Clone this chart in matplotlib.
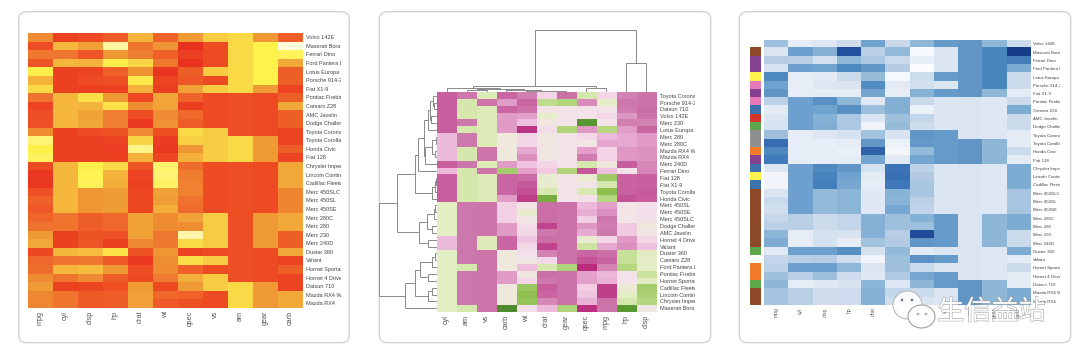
import numpy as np
import matplotlib
matplotlib.use('Agg')
import matplotlib.pyplot as plt
from matplotlib.colors import LinearSegmentedColormap, ListedColormap, Normalize
from matplotlib.patches import FancyBboxPatch, Ellipse, Circle
from matplotlib.transforms import Bbox, TransformedBbox
import matplotlib.patheffects as pe

plt.rcParams['font.family'] = ['Liberation Sans', 'DejaVu Sans']

# rows as they read top to bottom in the left panel
cars = ['Volvo 142E', 'Maserati Bora', 'Ferrari Dino', 'Ford Pantera L', 'Lotus Europa', 'Porsche 914-2',
        'Fiat X1-9', 'Pontiac Firebird', 'Camaro Z28', 'AMC Javelin', 'Dodge Challenger', 'Toyota Corona',
        'Toyota Corolla', 'Honda Civic', 'Fiat 128', 'Chrysler Imperial', 'Lincoln Continental',
        'Cadillac Fleetwood', 'Merc 450SLC', 'Merc 450SL', 'Merc 450SE', 'Merc 280C', 'Merc 280', 'Merc 230',
        'Merc 240D', 'Duster 360', 'Valiant', 'Hornet Sportabout', 'Hornet 4 Drive', 'Datsun 710',
        'Mazda RX4 Wag', 'Mazda RX4']

mpg = [21.4, 15.0, 19.7, 15.8, 30.4, 26.0, 27.3, 19.2, 13.3, 15.2, 15.5, 21.5, 33.9, 30.4, 32.4, 14.7,
       10.4, 10.4, 15.2, 17.3, 16.4, 17.8, 19.2, 22.8, 24.4, 14.3, 18.1, 18.7, 21.4, 22.8, 21.0, 21.0]
cyl = [4, 8, 6, 8, 4, 4, 4, 8, 8, 8, 8, 4, 4, 4, 4, 8, 8, 8, 8, 8, 8, 6, 6, 4, 4, 8, 6, 8, 6, 4, 6, 6]
disp = [121.0, 301.0, 145.0, 351.0, 95.1, 120.3, 79.0, 400.0, 350.0, 304.0, 318.0, 120.1, 71.1, 75.7, 78.7,
        440.0, 460.0, 472.0, 275.8, 275.8, 275.8, 167.6, 167.6, 140.8, 146.7, 360.0, 225.0, 360.0, 258.0,
        108.0, 160.0, 160.0]
hp = [109, 335, 175, 264, 113, 91, 66, 175, 245, 150, 150, 97, 65, 52, 66, 230, 215, 205, 180, 180, 180,
      123, 123, 95, 62, 245, 105, 175, 110, 93, 110, 110]
drat = [4.11, 3.54, 3.62, 4.22, 3.77, 4.43, 4.08, 3.08, 3.73, 3.15, 2.76, 3.70, 4.22, 4.93, 4.08, 3.23,
        3.00, 2.93, 3.07, 3.07, 3.07, 3.92, 3.92, 3.92, 3.69, 3.21, 2.76, 3.15, 3.08, 3.85, 3.90, 3.90]
wt = [2.780, 3.570, 2.770, 3.170, 1.513, 2.140, 1.935, 3.845, 3.840, 3.435, 3.520, 2.465, 1.835, 1.615,
      2.200, 5.345, 5.424, 5.250, 3.780, 3.730, 4.070, 3.440, 3.440, 3.150, 3.190, 3.570, 3.460, 3.440,
      3.215, 2.320, 2.875, 2.620]
qsec = [18.60, 14.60, 15.50, 14.50, 16.90, 16.70, 18.90, 17.05, 15.41, 17.30, 16.87, 20.01, 19.90, 18.52,
        19.47, 17.42, 17.82, 17.98, 18.00, 17.60, 17.40, 18.90, 18.30, 22.90, 20.00, 15.84, 20.22, 17.02,
        19.44, 18.61, 17.02, 16.46]
vs = [1, 0, 0, 0, 1, 0, 1, 0, 0, 0, 0, 1, 1, 1, 1, 0, 0, 0, 0, 0, 0, 1, 1, 1, 1, 0, 1, 0, 1, 1, 0, 0]
am = [1, 1, 1, 1, 1, 1, 1, 0, 0, 0, 0, 0, 1, 1, 1, 0, 0, 0, 0, 0, 0, 0, 0, 0, 0, 0, 0, 0, 0, 1, 1, 1]
gear = [4, 5, 5, 5, 5, 5, 4, 3, 3, 3, 3, 3, 4, 4, 4, 3, 3, 3, 3, 3, 3, 4, 4, 4, 4, 3, 3, 3, 3, 4, 4, 4]
carb = [2, 8, 6, 4, 2, 2, 1, 2, 4, 2, 2, 1, 1, 2, 1, 4, 4, 4, 3, 3, 3, 4, 4, 2, 2, 4, 1, 2, 1, 1, 4, 4]

columns = ['mpg', 'cyl', 'disp', 'hp', 'drat', 'wt', 'qsec', 'vs', 'am', 'gear', 'carb']

# order of the clustered panel
cluster_rows = ['Toyota Corona', 'Porsche 914-2', 'Datsun 710', 'Volvo 142E', 'Merc 230', 'Lotus Europa',
                'Merc 280', 'Merc 280C', 'Mazda RX4 Wag', 'Mazda RX4', 'Merc 240D', 'Ferrari Dino', 'Fiat 128',
                'Fiat X1-9', 'Toyota Corolla', 'Honda Civic', 'Merc 450SL', 'Merc 450SE', 'Merc 450SLC',
                'Dodge Challenger', 'AMC Javelin', 'Hornet 4 Drive', 'Valiant', 'Duster 360', 'Camaro Z28',
                'Ford Pantera L', 'Pontiac Firebird', 'Hornet Sportabout', 'Cadillac Fleetwood',
                'Lincoln Continental', 'Chrysler Imperial', 'Maserati Bora']
cluster_cols = ['cyl', 'am', 'vs', 'carb', 'wt', 'drat', 'gear', 'qsec', 'mpg', 'hp', 'disp']

# dendrograms: (height, left, right), leaves are positions in the clustered order
row_tree = (57.7,
            (40, (22, (19, (12.7, (9, (6.5, (4, 0, (2.5, 1, 2)), (5.5, 3, 4)), 5),
                            (11.5, (5, (1, 6, 7), (1.5, 8, 9)), 10)), 11),
                  (5, (2, (1, 12, 13), 14), 15)),
             (17.7, (10, (2.5, (1.5, 16, 17), 18), (4.3, 19, 20)), (8.3, 21, 22))),
            (32, (22, (16.7, (5, (2, 23, 24), 25), (8.3, 26, 27)),
                  (9, (4.3, 28, 29), 30)), 31))
col_tree = (62.3,
            (6.7, (4, 0, (3, (2.4, 1, 2), (2.2, 3, (1.8, 4, (1.5, 5, 6))))), (4, 7, 8)),
            (29, 9, 10))

# sidebar groups of the right panel, -1 is no colour
side_groups = [-1, 0, 1, 1, 2, 3, 1, 3, 4, 5, 6, 7, 7, 8, 1, 4, 2, 4, 0, 0, 0, 0, 0, 0, 0, 6, -1, 8, 8, 6, 0, 0]
side_colors = ['#8c4a2a', '#84418f', '#fff44f', '#e67ab8', '#3d72ad', '#d4352a', '#5da64a', '#8f8f8f', '#f27a2c']

VMIN, VMAX = -1.93, 3.25


def scaled(col):
    col = np.array(col, dtype=float)
    return (col - col.mean()) / col.std(ddof=1)


def stops(pairs):
    return LinearSegmentedColormap.from_list(
        'c', [((z - VMIN) / (VMAX - VMIN), c) for z, c in pairs], N=512)


heat = stops([(-1.93, '#e8301f'), (-0.9, '#ee4a23'), (-0.1, '#f0752f'), (0.42, '#ef9a35'), (1.0, '#f5b53d'),
              (1.19, '#f9d945'), (1.78, '#fff24b'), (2.7, '#fff59a'), (3.25, '#fffde0')])
piyg = stops([(-1.93, '#b8277b'), (-1.22, '#c8609f'), (-0.81, '#ce79ad'), (-0.5, '#e29cc8'), (-0.1, '#edbcdc'),
              (0.1, '#f3d0e5'), (0.42, '#f4e3ea'), (0.73, '#efe8de'), (1.01, '#e4efc5'), (1.19, '#d6e8ae'),
              (1.78, '#b0d57a'), (2.29, '#90be50'), (2.75, '#5a9a30'), (3.25, '#4f8a2c')])
blues = stops([(-1.93, '#fbfdff'), (-1.22, '#e6edf7'), (-0.81, '#dbe5f2'), (-0.1, '#b9cfe6'), (0.42, '#8fb8d8'),
               (1.0, '#6fa2cf'), (1.19, '#6196c7'), (1.78, '#4b87bf'), (2.25, '#3a70b5'), (2.75, '#2450a0'),
               (3.25, '#163a86')])

by_name = dict(zip(columns, [mpg, cyl, disp, hp, drat, wt, qsec, vs, am, gear, carb]))
matrix = np.column_stack([scaled(by_name[c]) for c in columns])
cluster_matrix = np.column_stack([scaled(by_name[c]) for c in cluster_cols])
cluster_matrix = cluster_matrix[[cars.index(r) for r in cluster_rows]]

W, H = 1080, 359
fig = plt.figure(figsize=(W / 100, H / 100), dpi=100, facecolor='white')
page = fig.add_axes([0, 0, 1, 1], zorder=0)
page.set_xlim(0, W)
page.set_ylim(H, 0)
page.axis('off')


def px_axes(x0, y0, x1, y1, zorder=1):
    ax = fig.add_axes([x0 / W, 1 - y1 / H, (x1 - x0) / W, (y1 - y0) / H], zorder=zorder)
    return ax


for x0, x1 in [(18.7, 349.3), (379.3, 710.7), (739.3, 1070.7)]:
    page.add_patch(FancyBboxPatch((x0 + 8, 11.7 + 8), x1 - x0 - 16, 331 - 16, boxstyle='round,pad=8',
                                  fc='white', ec='#cfcfcf', lw=0.9))


def heatmap(box, data, cmap, xlabels, ylabels, fs, xfs, clip_x, pad, xpad):
    ax = px_axes(*box)
    ax.imshow(data, cmap=cmap, norm=Normalize(VMIN, VMAX), aspect='auto', interpolation='nearest')
    for s in ax.spines.values():
        s.set_visible(False)
    ax.yaxis.tick_right()
    ax.set_yticks(range(len(ylabels)))
    ax.set_yticklabels(ylabels, fontsize=fs, color='#444444')
    ax.set_xticks(range(len(xlabels)))
    ax.set_xticklabels(xlabels, fontsize=xfs, color='#555555', rotation=90)
    ax.tick_params(axis='y', length=0, pad=pad)
    ax.tick_params(axis='x', length=0, pad=xpad)
    clip = TransformedBbox(Bbox([[0, 0], [clip_x, H]]), page.transData)
    for lab in ax.get_yticklabels():
        lab.set_clip_box(clip)
        lab.set_clip_on(True)
    return ax


heatmap((27.7, 33, 302.7, 307.7), matrix, heat, columns, cars, 4.0, 5.2, 341, 2.2, 2.2)
heatmap((436.7, 92.3, 656, 311.7), cluster_matrix, piyg, cluster_cols, cluster_rows, 4.0, 5.2, 695, 2.8, 2.2)
heatmap((764.3, 39.7, 1030.7, 305.3), matrix, blues, columns, cars, 3.2, 3.6, 1060, 2.0, 1.6)


# sidebar on the right panel
side = px_axes(750, 39.7, 761, 305.3)
side.imshow(np.ma.masked_less(np.array(side_groups)[:, None], 0), cmap=ListedColormap(side_colors),
            vmin=0, vmax=len(side_colors) - 1, aspect='auto', interpolation='nearest')
side.axis('off')


def draw_tree(ax, node, horizontal):
    if not isinstance(node, tuple):
        return node + 0.5, 0
    h, left, right = node
    p0, h0 = draw_tree(ax, left, horizontal)
    p1, h1 = draw_tree(ax, right, horizontal)
    xs, ys = [h0, h, h, h1], [p0, p0, p1, p1]
    if horizontal:
        ax.plot(ys, xs, color='#8a8a8a', lw=0.7, solid_joinstyle='miter')
    else:
        ax.plot(xs, ys, color='#8a8a8a', lw=0.7, solid_joinstyle='miter')
    return (p0 + p1) / 2, h


row_ax = px_axes(379, 92.3, 436.7, 311.7)
draw_tree(row_ax, row_tree, False)
row_ax.set_xlim(57.7, 0)
row_ax.set_ylim(32, 0)
row_ax.axis('off')
row_ax.patch.set_alpha(0)

col_ax = px_axes(436.7, 25, 656, 92.3)
draw_tree(col_ax, col_tree, True)
col_ax.set_xlim(0, 11)
col_ax.set_ylim(0, 67.3)
col_ax.axis('off')
col_ax.patch.set_alpha(0)

# watermark over the right panel
mark = fig.add_axes([0, 0, 1, 1], zorder=5)
mark.set_xlim(0, W)
mark.set_ylim(H, 0)
mark.axis('off')
mark.patch.set_alpha(0)
mark.add_patch(Ellipse((907.5, 305), 29, 28, fc='white', ec='#b5b5b5', lw=0.8, alpha=0.9))
mark.add_patch(Ellipse((921.5, 316.5), 27, 23, fc='white', ec='#a0a0a0', lw=0.8))
for ex, ey, col in [(902, 300, '#667788'), (912, 300, '#667788'), (918, 314, '#aab0b8'), (926, 314, '#aab0b8')]:
    mark.add_patch(Circle((ex, ey), 1.3, fc=col, ec='none'))
mark.text(991.5, 312, '生信益站', family=['Noto Sans CJK SC', 'DejaVu Sans'], fontsize=19.5, color='white',
          ha='center', va='center',
          path_effects=[pe.withStroke(linewidth=0.7, foreground='#9a9a9a')])

fig.savefig('out.png', dpi=100)
